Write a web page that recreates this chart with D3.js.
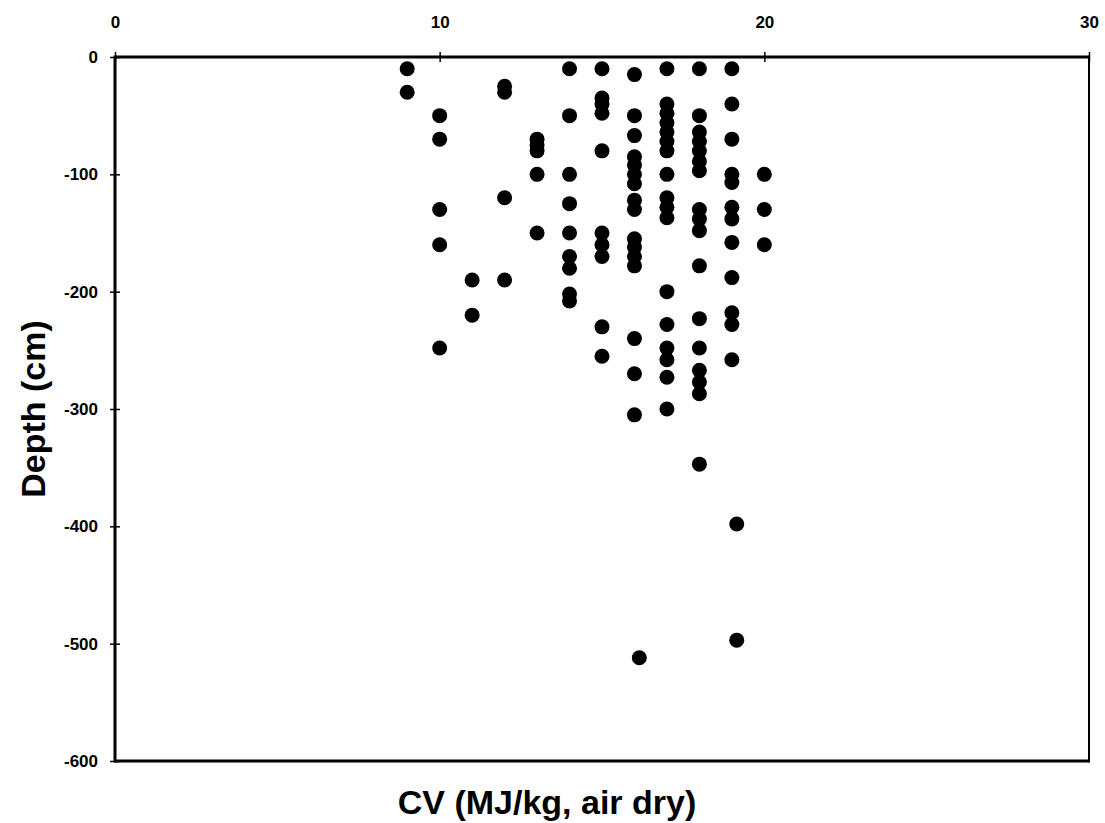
<!DOCTYPE html>
<html>
<head>
<meta charset="utf-8">
<script src="https://cdn.jsdelivr.net/npm/d3@7"></script>
<style>
  html, body { margin: 0; padding: 0; background: #fff; }
  svg { display: block; }
  .tick text { font-family: "Liberation Sans", Arial, sans-serif; font-size: 17px; font-weight: bold; fill: #000; }
  .title { font-family: "Liberation Sans", Arial, sans-serif; font-weight: bold; font-size: 34px; fill: #000; }
</style>
</head>
<body>
<svg id="chart" width="1105" height="823"></svg>
<script>
// Calorific value (MJ/kg, air dry) of samples against sampling depth (cm)
const cvValues = [
  9, 9,
  10, 10, 10, 10, 10,
  11, 11,
  12, 12, 12, 12,
  13, 13, 13, 13, 13,
  14, 14, 14, 14, 14, 14, 14, 14, 14,
  15, 15, 15, 15, 15, 15, 15, 15, 15, 15,
  16, 16, 16, 16, 16, 16, 16, 16, 16, 16, 16, 16, 16, 16, 16, 16, 16.15,
  17, 17, 17, 17, 17, 17, 17, 17, 17, 17, 17, 17, 17, 17, 17, 17, 17,
  18, 18, 18, 18, 18, 18, 18, 18, 18, 18, 18, 18, 18, 18, 18, 18, 18,
  19, 19, 19, 19, 19, 19, 19, 19, 19, 19, 19, 19, 19.15, 19.15,
  20, 20, 20
];
const depthValues = [
  -10, -30,
  -50, -70, -130, -160, -248,
  -190, -220,
  -25, -30, -120, -190,
  -70, -75, -80, -100, -150,
  -10, -50, -100, -125, -150, -170, -180, -202, -208,
  -10, -35, -40, -48, -80, -150, -160, -170, -230, -255,
  -15, -50, -67, -85, -92, -100, -108, -122, -130, -155, -162, -170, -178, -240, -270, -305, -512,
  -10, -40, -48, -56, -64, -72, -80, -100, -120, -128, -137, -200, -228, -248, -258, -273, -300,
  -10, -50, -64, -72, -80, -89, -97, -130, -138, -148, -178, -223, -248, -267, -277, -287, -347,
  -10, -40, -70, -100, -107, -128, -138, -158, -188, -218, -228, -258, -398, -497,
  -100, -130, -160
];
const xTicks = [0, 10, 20, 30];
const yTicks = [0, -100, -200, -300, -400, -500, -600];

const points = cvValues.map((v, i) => ({ cv: v, depth: depthValues[i] }));

// Plain hyphen-minus labels
const plain = d => String(d);

const svg = d3.select("#chart");
const x = d3.scaleLinear().domain([0, 30]).range([115, 1089]);
const y = d3.scaleLinear().domain([0, -600]).range([57, 761]);

// Top axis (CV), cross-shaped ticks
const gx = svg.append("g")
  .attr("transform", `translate(0,${y(0)})`)
  .call(d3.axisTop(x).tickValues(xTicks).tickFormat(plain).tickSizeInner(5).tickSizeOuter(0).tickPadding(24));
gx.select(".domain").remove();
gx.selectAll(".tick line").attr("y1", 5).attr("stroke", "#000").attr("stroke-width", 1.5);

// Left axis (depth), cross-shaped ticks
const gy = svg.append("g")
  .attr("transform", `translate(${x(0)},0)`)
  .call(d3.axisLeft(y).tickValues(yTicks).tickFormat(plain).tickSizeInner(5).tickSizeOuter(0).tickPadding(12));
gy.select(".domain").remove();
gy.selectAll(".tick line").attr("x1", 5).attr("stroke", "#000").attr("stroke-width", 1.5);

// Plot frame
const x0 = x(0), x1 = x(30), y0 = y(0), y1 = y(-600);
const frame = svg.append("g").attr("stroke", "#000").attr("fill", "none");
frame.append("line").attr("x1", x0).attr("x2", x1).attr("y1", y0).attr("y2", y0).attr("stroke-width", 3);
frame.append("line").attr("x1", x0).attr("x2", x0).attr("y1", y0 - 1.5).attr("y2", y1 + 1.5).attr("stroke-width", 3);
frame.append("line").attr("x1", x0).attr("x2", x1).attr("y1", y1).attr("y2", y1).attr("stroke-width", 3);
frame.append("line").attr("x1", x1).attr("x2", x1).attr("y1", y0 - 1.5).attr("y2", y1 + 1.5).attr("stroke-width", 2);

// Sample points
svg.append("g")
  .selectAll("circle")
  .data(points)
  .join("circle")
  .attr("cx", d => x(d.cv))
  .attr("cy", d => y(d.depth))
  .attr("r", 7.5)
  .attr("fill", "#000");

// Axis titles
svg.append("text")
  .attr("class", "title")
  .attr("x", 547)
  .attr("y", 814)
  .attr("text-anchor", "middle")
  .text("CV (MJ/kg, air dry)");

svg.append("text")
  .attr("class", "title")
  .attr("transform", `translate(45,409) rotate(-90)`)
  .attr("text-anchor", "middle")
  .text("Depth (cm)");
</script>
</body>
</html>
